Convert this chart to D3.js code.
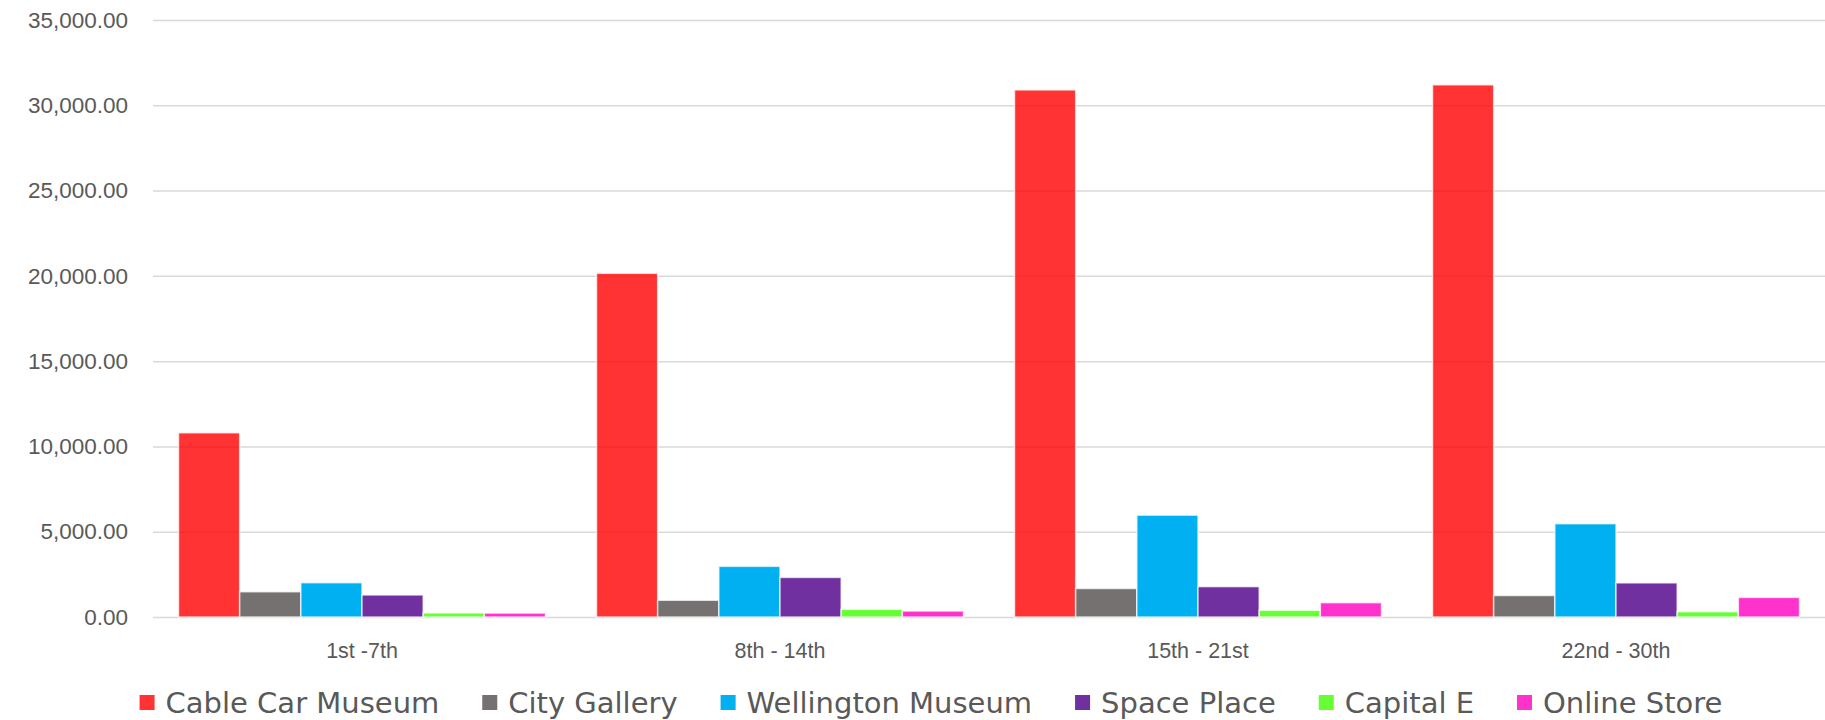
<!DOCTYPE html>
<html>
<head>
<meta charset="utf-8">
<script src="https://cdn.jsdelivr.net/npm/d3@7"></script>
<style>
  body { margin: 0; background: #fff; }
  svg { display: block; font-family: "DejaVu Sans", sans-serif; }
  .axis text { fill: #595959; }
  .legend text { fill: #595959; }
</style>
</head>
<body>
<div id="chart"></div>
<script>
// Data
const periods = ['1st -7th', '8th - 14th', '15th - 21st', '22nd - 30th'];
const venues = ['Cable Car Museum', 'City Gallery', 'Wellington Museum', 'Space Place', 'Capital E', 'Online Store'];
const cableCar = [10800, 20150, 30900, 31200];
const cityGallery = [1480, 980, 1670, 1260];
const wellingtonMuseum = [2010, 2970, 5970, 5470];
const spacePlace = [1290, 2320, 1780, 2000];
const capitalE = [240, 450, 390, 310];
const onlineStore = [230, 350, 840, 1150];
const yTicks = [0, 5000, 10000, 15000, 20000, 25000, 30000, 35000];

const seriesValues = [cableCar, cityGallery, wellingtonMuseum, spacePlace, capitalE, onlineStore];
const colors = ['#ff0000', '#767171', '#00b0f0', '#7030a0', '#66ff33', '#ff33cc'];
const opacities = [0.8, 1, 1, 1, 1, 1];

const containerWidth = 1825, containerHeight = 720;
const margin = {top: 20, right: 0, bottom: 103, left: 153};
const width = containerWidth - margin.left - margin.right;
const height = containerHeight - margin.top - margin.bottom;

// rows of {period, venue, value}
const table = periods.map((p, i) => ({
  period: p,
  items: venues.map((v, j) => ({venue: v, value: seriesValues[j][i]}))
}));

const x0 = d3.scaleBand()
    .domain(periods)
    .range([0, width])
    .paddingInner(0.122)
    .paddingOuter(0.061);

const x1 = d3.scaleBand()
    .domain(venues)
    .range([0, x0.bandwidth()]);

const y = d3.scaleLinear()
    .domain([0, 35000])
    .range([height, 0]);

const color = d3.scaleOrdinal().domain(venues).range(colors);
const opacity = d3.scaleOrdinal().domain(venues).range(opacities);

const svg = d3.select('#chart').append('svg')
    .attr('width', containerWidth)
    .attr('height', containerHeight);

const chart = svg.append('g')
    .attr('transform', `translate(${margin.left},${margin.top})`);

// y axis with gridlines
const yAxis = d3.axisLeft(y)
    .tickValues(yTicks)
    .tickFormat(d3.format(',.2f'))
    .tickSize(-width)
    .tickPadding(25);

chart.append('g')
    .attr('class', 'axis y-axis')
    .call(yAxis)
    .call(g => g.select('.domain').remove())
    .call(g => g.selectAll('.tick line').attr('stroke', '#d9d9d9').attr('stroke-width', 1.5))
    .call(g => g.selectAll('.tick text').style('font-size', '22.5px'));

// x axis labels
const xAxis = d3.axisBottom(x0)
    .tickSize(0)
    .tickPadding(26);

chart.append('g')
    .attr('class', 'axis x-axis')
    .attr('transform', `translate(0,${height})`)
    .call(xAxis)
    .call(g => g.select('.domain').remove())
    .call(g => g.selectAll('.tick text').style('font-size', '21.5px'));

// bars
const groups = chart.selectAll('.group')
    .data(table)
    .join('g')
    .attr('class', 'group')
    .attr('transform', d => `translate(${x0(d.period)},0)`);

groups.selectAll('rect')
    .data(d => d.items)
    .join('rect')
    .attr('x', d => x1(d.venue))
    .attr('width', x1.bandwidth())
    .attr('y', d => y(d.value))
    .attr('height', d => y(0) - y(d.value))
    .attr('fill', d => color(d.venue))
    .attr('fill-opacity', d => opacity(d.venue))
    .attr('stroke', '#ffffff')
    .attr('stroke-opacity', 0.7)
    .attr('stroke-width', 1.5);

// legend
const legend = svg.append('g')
    .attr('class', 'legend')
    .attr('transform', `translate(0,${703})`);

const legendItem = legend.selectAll('.legend-item')
    .data(venues)
    .join('g')
    .attr('class', 'legend-item');

legendItem.append('rect')
    .attr('y', -8)
    .attr('width', 15)
    .attr('height', 15)
    .attr('fill', d => color(d))
    .attr('fill-opacity', d => opacity(d));

legendItem.append('text')
    .attr('x', 26)
    .attr('dy', '0.35em')
    .style('font-size', '29px')
    .text(d => d);

// place items side by side, centred
const gap = 43;
let offset = 0;
const offsets = [];
legendItem.each(function() {
  offsets.push(offset);
  const w = d3.select(this).select('text').node().getComputedTextLength();
  offset += 26 + w + gap;
});
const totalW = offset - gap;
const legendCenter = 931;
legendItem.attr('transform', (d, i) => `translate(${legendCenter - totalW / 2 + offsets[i]},0)`);
</script>
</body>
</html>
